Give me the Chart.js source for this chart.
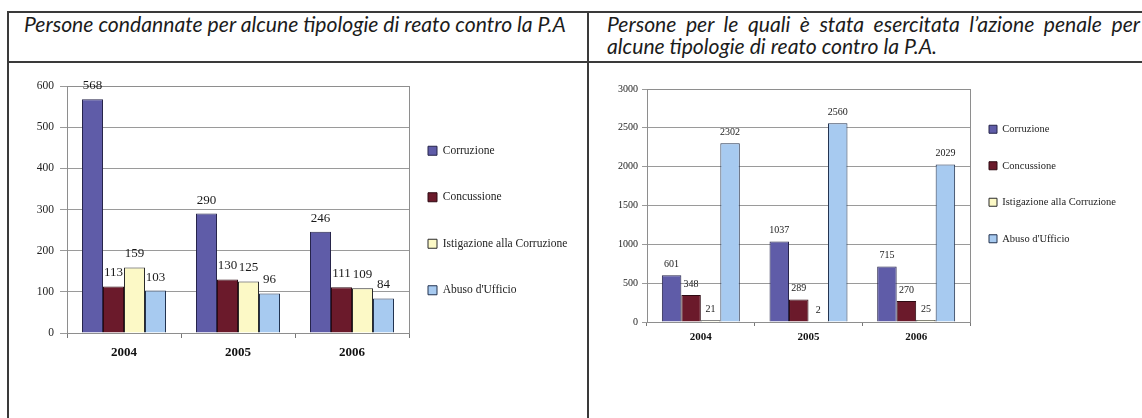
<!DOCTYPE html>
<html>
<head>
<meta charset="utf-8">
<script src="https://cdn.jsdelivr.net/npm/chart.js@4/dist/chart.umd.min.js"></script>
<style>
  html, body { margin: 0; padding: 0; background: #fff; }
  body { width: 1142px; height: 418px; position: relative; overflow: hidden; }
  .rule { position: absolute; background: #3a3a3a; }
  .head { position: absolute; font-family: Lato, sans-serif; font-style: italic; font-size: 20px;
          line-height: 24px; color: #1c1c1c; white-space: nowrap; }
  .box { position: absolute; }
</style>
</head>
<body>
<div class="rule" style="left:7px; top:11px; width:1135px; height:2px"></div>
<div class="rule" style="left:7px; top:61px; width:1135px; height:2px"></div>
<div class="rule" style="left:7px; top:11px; width:2px; height:407px"></div>
<div class="rule" style="left:587px; top:11px; width:2px; height:407px"></div>

<div id="headL" class="head" style="left:24px; top:12px;">Persone condannate per alcune tipologie di reato contro la P.A</div>
<div id="headR1" class="head" style="left:607px; top:12px;">Persone per le quali è stata esercitata l’azione penale per</div>
<div id="headR2" class="head" style="left:607px; top:34px;">alcune tipologie di reato contro la P.A.</div>

<div class="box" style="left:10px; top:64px; width:575px; height:350px"><canvas id="chartL"></canvas></div>
<div class="box" style="left:592px; top:64px; width:550px; height:350px"><canvas id="chartR"></canvas></div>

<script>
// categories and series
const years = ['2004', '2005', '2006'];
const seriesNames = ['Corruzione', 'Concussione', 'Istigazione alla Corruzione', "Abuso d'Ufficio"];

// persone condannate
const condCorruzione = [568, 290, 246];
const condConcussione = [113, 130, 111];
const condIstigazione = [159, 125, 109];
const condAbuso = [103, 96, 84];

// azione penale esercitata
const azCorruzione = [601, 1037, 715];
const azConcussione = [348, 289, 270];
const azIstigazione = [21, 2, 25];
const azAbuso = [2302, 2560, 2029];

// y axis ticks
const yTicksCond = [0, 100, 200, 300, 400, 500, 600];
const yTicksAz = [0, 500, 1000, 1500, 2000, 2500, 3000];

const fills = ['#5f5ca8', '#6b1a2b', '#fcf9c6', '#a7caf0'];
const edges = ['#26244a', '#2e0a12', '#2b2b2b', '#22324f'];
const serif = 'Liberation Serif';

// header sizes: fit the left title to its width, reuse size for the right one
const headL = document.getElementById('headL');
const headR1 = document.getElementById('headR1');
const headR2 = document.getElementById('headR2');
let hs = 20 * 542 / headL.getBoundingClientRect().width;
headL.style.fontSize = hs + 'px';
headR1.style.fontSize = hs + 'px';
const r1w = headR1.getBoundingClientRect().width;
if (r1w > 530) { hs = hs * 530 / r1w; headR1.style.fontSize = hs + 'px'; }
headR2.style.fontSize = hs + 'px';
headR1.style.whiteSpace = 'normal';
headR1.style.width = '533px';
headR1.style.textAlign = 'justify';
headR1.style.textAlignLast = 'justify';

// puts legend items at a set gap from the plot and draws the plot frame
const placer = {
  id: 'placer',
  afterLayout(chart, args, o) {
    const lg = chart.legend;
    const pad = lg.options.labels.padding;
    lg.left = chart.chartArea.right + o.gap - pad;
    lg.right = chart.width;
    lg.width = lg.right - lg.left;
    lg.top = o.top - pad;
    lg.bottom = chart.height;
    lg.height = lg.bottom - lg.top;
  },
  beforeDatasetsDraw(chart) {
    const a = chart.chartArea, ctx = chart.ctx;
    ctx.save();
    ctx.strokeStyle = '#8e8e8e';
    ctx.lineWidth = 1;
    ctx.strokeRect(Math.round(a.left) + 0.5, Math.round(a.top) + 0.5,
      Math.round(a.right - a.left), Math.round(a.bottom - a.top));
    ctx.restore();
  }
};

// value above each bar
const valueLabels = {
  id: 'valueLabels',
  afterDatasetsDraw(chart, args, o) {
    const ctx = chart.ctx;
    ctx.save();
    ctx.font = o.size + 'px "' + serif + '"';
    ctx.fillStyle = '#1a1a1a';
    ctx.textAlign = 'center';
    ctx.textBaseline = 'bottom';
    chart.data.datasets.forEach((ds, i) => {
      chart.getDatasetMeta(i).data.forEach((bar, j) => {
        ctx.fillText(String(ds.data[j]), bar.x, bar.y - o.offset);
      });
    });
    ctx.restore();
  }
};

function makeChart(id, values, yTicks, c) {
  return new Chart(document.getElementById(id), {
    type: 'bar',
    data: {
      labels: years,
      datasets: seriesNames.map((name, i) => ({
        label: name,
        data: values[i],
        backgroundColor: fills[i],
        borderColor: edges[i],
        borderWidth: 1,
        categoryPercentage: c.cat,
        barPercentage: 1
      }))
    },
    options: {
      responsive: true,
      maintainAspectRatio: false,
      animation: false,
      layout: { padding: c.padding },
      plugins: {
        legend: {
          position: 'right',
          align: 'start',
          maxWidth: c.legendWidth,
          labels: {
            boxWidth: c.box, boxHeight: c.box, padding: c.legendPad, color: '#222',
            font: { family: serif, size: c.legendFont }
          }
        },
        tooltip: { enabled: false },
        placer: { gap: c.legendGap, top: c.legendTop },
        valueLabels: { size: c.labelFont, offset: c.labelOffset }
      },
      scales: {
        x: {
          grid: { drawOnChartArea: false, offset: true, tickLength: c.xTick, color: '#777' },
          border: { color: '#6e6e6e' },
          ticks: { color: '#111', padding: c.xPad, font: { family: serif, size: c.xFont, weight: 'bold' } },
          afterFit: s => { s.height = c.xHeight; }
        },
        y: {
          min: yTicks[0],
          max: yTicks[yTicks.length - 1],
          ticks: { stepSize: yTicks[1] - yTicks[0], color: '#222', padding: c.yPad,
                   font: { family: serif, size: c.yFont },
                   callback: v => String(v) },
          grid: { color: '#9a9a9a', tickLength: c.yTick },
          border: { color: '#8e8e8e' },
          afterFit: s => { s.width = c.yWidth; }
        }
      }
    },
    plugins: [placer, valueLabels]
  });
}

makeChart('chartL', [condCorruzione, condConcussione, condIstigazione, condAbuso], yTicksCond, {
  cat: 0.737, padding: { top: 22, left: 0, right: 16, bottom: 51 },
  legendWidth: 160, box: 9, legendPad: 35, legendFont: 11.5, legendGap: 19, legendTop: 81,
  labelFont: 13, labelOffset: 7,
  xTick: 5, xPad: 7, xFont: 13, xHeight: 30,
  yTick: 7, yPad: 6, yFont: 11.5, yWidth: 57
});

makeChart('chartR', [azCorruzione, azConcussione, azIstigazione, azAbuso], yTicksAz, {
  cat: 0.724, padding: { top: 25, left: 0, right: 32, bottom: 66 },
  legendWidth: 140, box: 8, legendPad: 26, legendFont: 10.5, legendGap: 19, legendTop: 60,
  labelFont: 10, labelOffset: 6,
  xTick: 4, xPad: 5, xFont: 11, xHeight: 26,
  yTick: 5, yPad: 4, yFont: 10, yWidth: 55
});
</script>
</body>
</html>
